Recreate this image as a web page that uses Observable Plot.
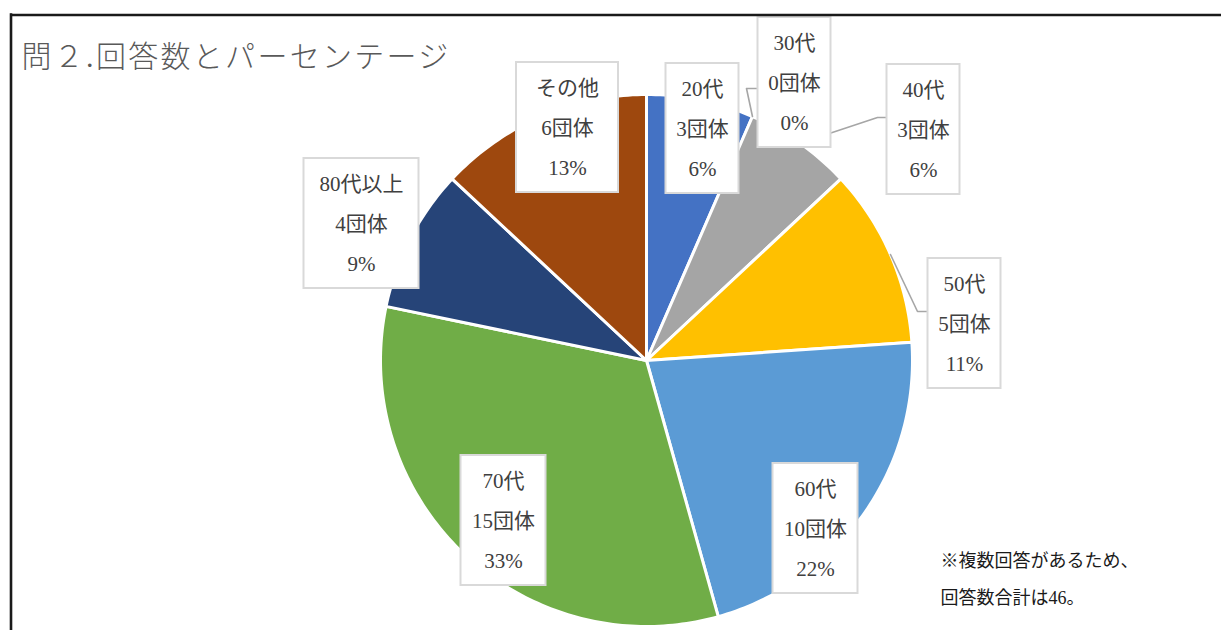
<!DOCTYPE html>
<html><head><meta charset="utf-8">
<script src="https://cdn.jsdelivr.net/npm/d3@7"></script>
<script src="https://cdn.jsdelivr.net/npm/@observablehq/plot@0.6"></script>
<style>
html,body{margin:0;padding:0;background:#fff;}
text[aria-label="chart-title"], [aria-label="chart-title"] text{letter-spacing:2.3px;}
</style></head><body><div id="chart"></div>
<script>
// ---- data ----
const categories = ["20代","30代","40代","50代","60代","70代","80代以上","その他"];
const counts = [3,0,3,5,10,15,4,6];
const percents = [6,0,6,11,22,33,9,13];
const colors = ["#4472C4","#ED7D31","#A5A5A5","#FFC000","#5B9BD5","#70AD47","#264478","#9E480E"];
const title = "問２.回答数とパーセンテージ";
const noteLines = ["※複数回答があるため、","回答数合計は46。"];

// ---- layout ----
const W = 1221, H = 630;
const cx = 646, cy = 360, R = 266;
const labelCenter = [[702,128],[794,82],[923,129],[964,323],[815,528],[503,520],[361,223],[567,127]];
const labelWidth = [73,73,73,73,85,85,115,102];
const labelHeight = 130;
const leaderElbows = {1: [[746,88],[758,88]], 2: [[877,117],[887,117]], 3: [[917,311],[928,311]]};
const FONT = "'Liberation Serif','Noto Sans CJK JP',serif";

const pie = d3.pie().sort(null).value(d => d.count).startAngle(0).endAngle(2*Math.PI);
const rows = categories.map((c,i) => ({cat:c, count:counts[i], pct:percents[i], i}));
const arcs = pie(rows);

const polar = (a, r) => [cx + r*Math.sin(a), cy - r*Math.cos(a)];

const slicePts = [];
arcs.forEach(a => {
  if (a.data.count === 0) return;
  slicePts.push({cat:a.data.cat, x:cx, y:cy});
  const n = Math.max(2, Math.ceil((a.endAngle - a.startAngle) / (Math.PI/180)));
  for (let k = 0; k <= n; k++) {
    const t = a.startAngle + (a.endAngle - a.startAngle) * k / n;
    const [x,y] = polar(t, R);
    slicePts.push({cat:a.data.cat, x, y});
  }
});

const leaderPts = [];
Object.entries(leaderElbows).forEach(([i, pts]) => {
  const a = arcs[+i];
  const [x,y] = polar((a.startAngle + a.endAngle)/2, R);
  leaderPts.push({k:i, x, y});
  pts.forEach(([px,py]) => leaderPts.push({k:i, x:px, y:py}));
});

const labels = rows.map((r,i) => ({
  text: `${r.cat}\n${r.count}団体\n${r.pct}%`,
  x: labelCenter[i][0], y: labelCenter[i][1],
  x1: labelCenter[i][0] - labelWidth[i]/2, x2: labelCenter[i][0] + labelWidth[i]/2,
  y1: labelCenter[i][1] - labelHeight/2, y2: labelCenter[i][1] + labelHeight/2
}));

const chart = Plot.plot({
  width: W, height: H,
  margin: 0,
  x: {domain:[0,W], range:[0,W], axis:null},
  y: {domain:[0,H], range:[0,H], axis:null},
  color: {domain: categories, range: colors},
  style: {fontFamily: FONT, background:"#fff"},
  marks: [
    Plot.line(slicePts, {x:"x", y:"y", z:"cat", fill:"cat", stroke:"#fff", strokeWidth:3, curve:"linear-closed", strokeLinejoin:"round"}),
    Plot.line(leaderPts, {x:"x", y:"y", z:"k", stroke:"#A6A6A6", strokeWidth:1.6}),
    Plot.rect(labels, {x1:"x1", x2:"x2", y1:"y1", y2:"y2", fill:"#fff", stroke:"#D9D9D9", strokeWidth:2}),
    Plot.text(labels, {x:"x", y:"y", dy:-5, text:"text", fontSize:21, lineHeight:1.9, fill:"#404040", fontFamily:FONT}),
    Plot.text([title], {x:()=>21, y:()=>57, text:d=>d, textAnchor:"start", fontSize:30, fill:"#595959", fontWeight:300, fontFamily:FONT, ariaLabel:()=>"chart-title"}),
    Plot.text(noteLines, {x:()=>940, y:(d,i)=>[561,598][i], text:d=>d, textAnchor:"start", fontSize:18, fill:"#1a1a1a", fontFamily:FONT}),
    Plot.ruleY([14.5], {x1:10, x2:W, stroke:"#1a1a1a", strokeWidth:2.6}),
    Plot.ruleX([10.5], {y1:13.2, y2:H, stroke:"#1a1a1a", strokeWidth:2.6})
  ]
});
document.getElementById("chart").appendChild(chart);
</script>
</body></html>
